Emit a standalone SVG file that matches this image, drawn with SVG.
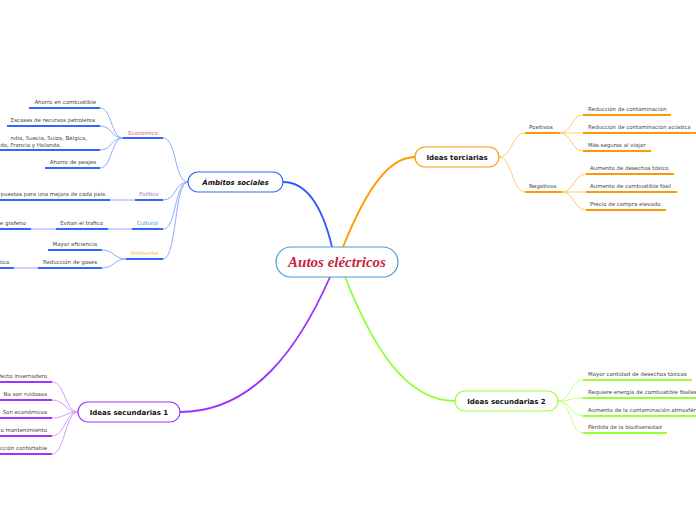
<svg xmlns="http://www.w3.org/2000/svg" width="696" height="520" viewBox="0 0 696 520">
<style>
.t{font-family:"DejaVu Sans",Verdana,sans-serif;font-size:5.45px;fill:#444}
.e{text-anchor:end}
.m{text-anchor:middle}
.n{font-family:"DejaVu Sans",Verdana,sans-serif;font-size:7px;font-weight:bold;fill:#111;text-anchor:middle}
.ub{stroke:#3366ff;stroke-width:2;fill:none}
.uo{stroke:#ff9900;stroke-width:2;fill:none}
.ug{stroke:#99ff33;stroke-width:2;fill:none}
.up{stroke:#a033ff;stroke-width:2;fill:none}
.cb{stroke:#8eaaff;stroke-width:1;fill:none}
.co{stroke:#ffc970;stroke-width:1;fill:none}
.cg{stroke:#c4ff8c;stroke-width:1;fill:none}
.cp{stroke:#d29cff;stroke-width:1;fill:none}
</style>
<g id="connectors">
<path d="M283,182 C306,182 322,205 332,247" stroke="#2f5bff" stroke-width="1.8" fill="none"/>
<path d="M343,247 C362,200 385,157 415,157" stroke="#ff9a00" stroke-width="1.8" fill="none"/>
<path d="M330,277 C300,345 255,412 180,412" stroke="#9b30ff" stroke-width="1.8" fill="none"/>
<path d="M345,277 C372,345 405,401 455,401" stroke="#8fff2f" stroke-width="1.8" fill="none"/>
<path class="cb" d="M188,182 C174,182 177,138 163,138"/>
<path class="cb" d="M188,182 C174,182 177,200 163,200"/>
<path class="cb" d="M188,182 C174,182 177,229 163,229"/>
<path class="cb" d="M188,182 C174,182 177,259 163,259"/>
<path class="cb" d="M123,138 C111,138 112,108 100,108"/>
<path class="cb" d="M123,138 C111,138 112,126 100,126"/>
<path class="cb" d="M123,138 C111,138 112,150 100,150"/>
<path class="cb" d="M123,138 C111,138 112,168 100,168"/>
<path class="cb" d="M110,200 L135,200"/>
<path class="cb" d="M108,229 L132,229"/>
<path class="cb" d="M31,229 L56,229"/>
<path class="cb" d="M126,259 C114,259 114,250 102,250"/>
<path class="cb" d="M126,259 C114,259 114,268 102,268"/>
<path class="cb" d="M14,268 L38,268"/>
<path class="co" d="M499,157 C512,157 512,133 525,133"/>
<path class="co" d="M499,157 C512,157 512,192 525,192"/>
<path class="co" d="M560,133 C572,133 571,115 583,115"/>
<path class="co" d="M560,133 L583,133"/>
<path class="co" d="M560,133 C572,133 571,151 583,151"/>
<path class="co" d="M562,192 C574,192 574,174 586,174"/>
<path class="co" d="M562,192 L586,192"/>
<path class="co" d="M562,192 C574,192 574,210 586,210"/>
<path class="cg" d="M558,401 C571,401 570,380 583,380"/>
<path class="cg" d="M558,401 C571,401 570,398 583,398"/>
<path class="cg" d="M558,401 C571,401 570,416 583,416"/>
<path class="cg" d="M558,401 C571,401 570,433 583,433"/>
<path class="cp" d="M78,412 C65,412 65,382 52,382"/>
<path class="cp" d="M78,412 C65,412 65,400 52,400"/>
<path class="cp" d="M78,412 C65,412 65,418 52,418"/>
<path class="cp" d="M78,412 C65,412 65,436 52,436"/>
<path class="cp" d="M78,412 C65,412 65,454 52,454"/>
</g>
<g id="center">
<rect x="276" y="247" width="122" height="30" rx="15" fill="#fff" stroke="#4a9bd6" stroke-width="1.2"/>
<text x="337" y="267" font-family="'Liberation Serif',serif" font-style="italic" font-weight="bold" font-size="15" fill="#c71f42" text-anchor="middle">Autos eléctricos</text>
</g>
<g id="ambitos">
<rect x="188" y="172" width="95" height="20" rx="10" fill="#fff" stroke="#3366ff" stroke-width="1.2"/>
<text class="n" x="235.5" y="184.5" font-style="italic">Ámbitos sociales</text>
</g>
<g id="economico">
<path class="ub" d="M123,138 H163"/>
<text class="t m" x="143" y="134.5" style="fill:#d0607a">Económico</text>
</g>
<g id="leaf-e1"><path class="ub" d="M29,108 H100"/><text class="t e" x="96" y="103.5">Ahorro en combustible</text></g>
<g id="leaf-e2"><path class="ub" d="M7,126 H100"/><text class="t e" x="95" y="121.5">Escases de recursos petroleros</text></g>
<g id="leaf-e3"><path class="ub" d="M0,150 H100"/><text class="t e" x="87" y="139.5">ndia, Suecia, Suiza, Bélgica,</text><text class="t e" x="61" y="146.5">do, Francia y Holanda.</text></g>
<g id="leaf-e4"><path class="ub" d="M45,168 H100"/><text class="t e" x="96" y="163.5">Ahorro de peajes</text></g>
<g id="politico">
<path class="ub" d="M135,200 H163"/>
<text class="t m" x="149" y="196" style="fill:#a478c8">Político</text>
</g>
<g id="leaf-p1"><path class="ub" d="M0,200 H110"/><text class="t e" x="105" y="196">puestas para una mejora de cada país</text></g>
<g id="cultural">
<path class="ub" d="M132,229 H163"/>
<text class="t m" x="147.5" y="225" style="fill:#3d9bd0">Cultural</text>
</g>
<g id="leaf-c1"><path class="ub" d="M56,229 H108"/><text class="t e" x="103" y="225">Evitan el trafico</text></g>
<g id="leaf-c2"><path class="ub" d="M0,229 H31"/><text class="t e" x="26" y="225">e grafeno</text></g>
<g id="ambiental">
<path class="ub" d="M126,259 H163"/>
<text class="t m" x="144.5" y="255" style="fill:#f7b84b">Ambiental</text>
</g>
<g id="leaf-a1"><path class="ub" d="M48,250 H102"/><text class="t e" x="97" y="246">Mayor eficiencia</text></g>
<g id="leaf-a2"><path class="ub" d="M38,268 H102"/><text class="t e" x="97" y="264">Reducción de gases</text></g>
<g id="leaf-a3"><path class="ub" d="M0,268 H14"/><text class="t e" x="9" y="264">tica</text></g>
<g id="terciarias">
<rect x="415" y="147" width="84" height="20" rx="10" fill="#fff" stroke="#ff9900" stroke-width="1.2"/>
<text class="n" x="457" y="159.5">Ideas terciarias</text>
</g>
<g id="positivos"><path class="uo" d="M525,133 H560"/><text class="t" x="529" y="129">Positivos</text></g>
<g id="negativos"><path class="uo" d="M525,192 H562"/><text class="t" x="529" y="188">Negativos</text></g>
<g id="leaf-t1"><path class="uo" d="M583,115 H671"/><text class="t" x="588" y="111">Reducción de contaminación</text></g>
<g id="leaf-t2"><path class="uo" d="M583,133 H696"/><text class="t" x="588" y="129">Reducción de contaminación acústica</text></g>
<g id="leaf-t3"><path class="uo" d="M583,151 H651"/><text class="t" x="588" y="147">Más seguros al viajar</text></g>
<g id="leaf-t4"><path class="uo" d="M586,174 H674"/><text class="t" x="590" y="170">Aumento de desechos tóxico</text></g>
<g id="leaf-t5"><path class="uo" d="M586,192 H677"/><text class="t" x="590" y="188">Aumento de combustible fósil</text></g>
<g id="leaf-t6"><path class="uo" d="M586,210 H666"/><text class="t" x="590" y="206">Precio de compra elevado</text></g>
<g id="secundarias2">
<rect x="455" y="391" width="103" height="20" rx="10" fill="#fff" stroke="#99ff33" stroke-width="1.2"/>
<text class="n" x="506.5" y="403.5">Ideas secundarias 2</text>
</g>
<g id="leaf-s2a"><path class="ug" d="M583,380 H692"/><text class="t" x="588" y="376">Mayor cantidad de desechos tóxicos</text></g>
<g id="leaf-s2b"><path class="ug" d="M583,398 H696"/><text class="t" x="588" y="394">Requiere energía de combustible fósiles</text></g>
<g id="leaf-s2c"><path class="ug" d="M583,416 H696"/><text class="t" x="588" y="412">Aumento de la contaminación atmosférica</text></g>
<g id="leaf-s2d"><path class="ug" d="M583,433 H667"/><text class="t" x="588" y="429">Pérdida de la biodiversidad</text></g>
<g id="secundarias1">
<rect x="78" y="402" width="102" height="20" rx="10" fill="#fff" stroke="#a033ff" stroke-width="1.2"/>
<text class="n" x="129" y="414.5">Ideas secundarias 1</text>
</g>
<g id="leaf-s1a"><path class="up" d="M0,382 H52"/><text class="t e" x="47" y="378">fecto invernadero</text></g>
<g id="leaf-s1b"><path class="up" d="M0,400 H52"/><text class="t e" x="47" y="396">No son ruidosos</text></g>
<g id="leaf-s1c"><path class="up" d="M0,418 H52"/><text class="t e" x="47" y="414">Son económicos</text></g>
<g id="leaf-s1d"><path class="up" d="M0,436 H52"/><text class="t e" x="47" y="432">o mantenimiento</text></g>
<g id="leaf-s1e"><path class="up" d="M0,454 H52"/><text class="t e" x="47" y="450">cción confortable</text></g>
</svg>
